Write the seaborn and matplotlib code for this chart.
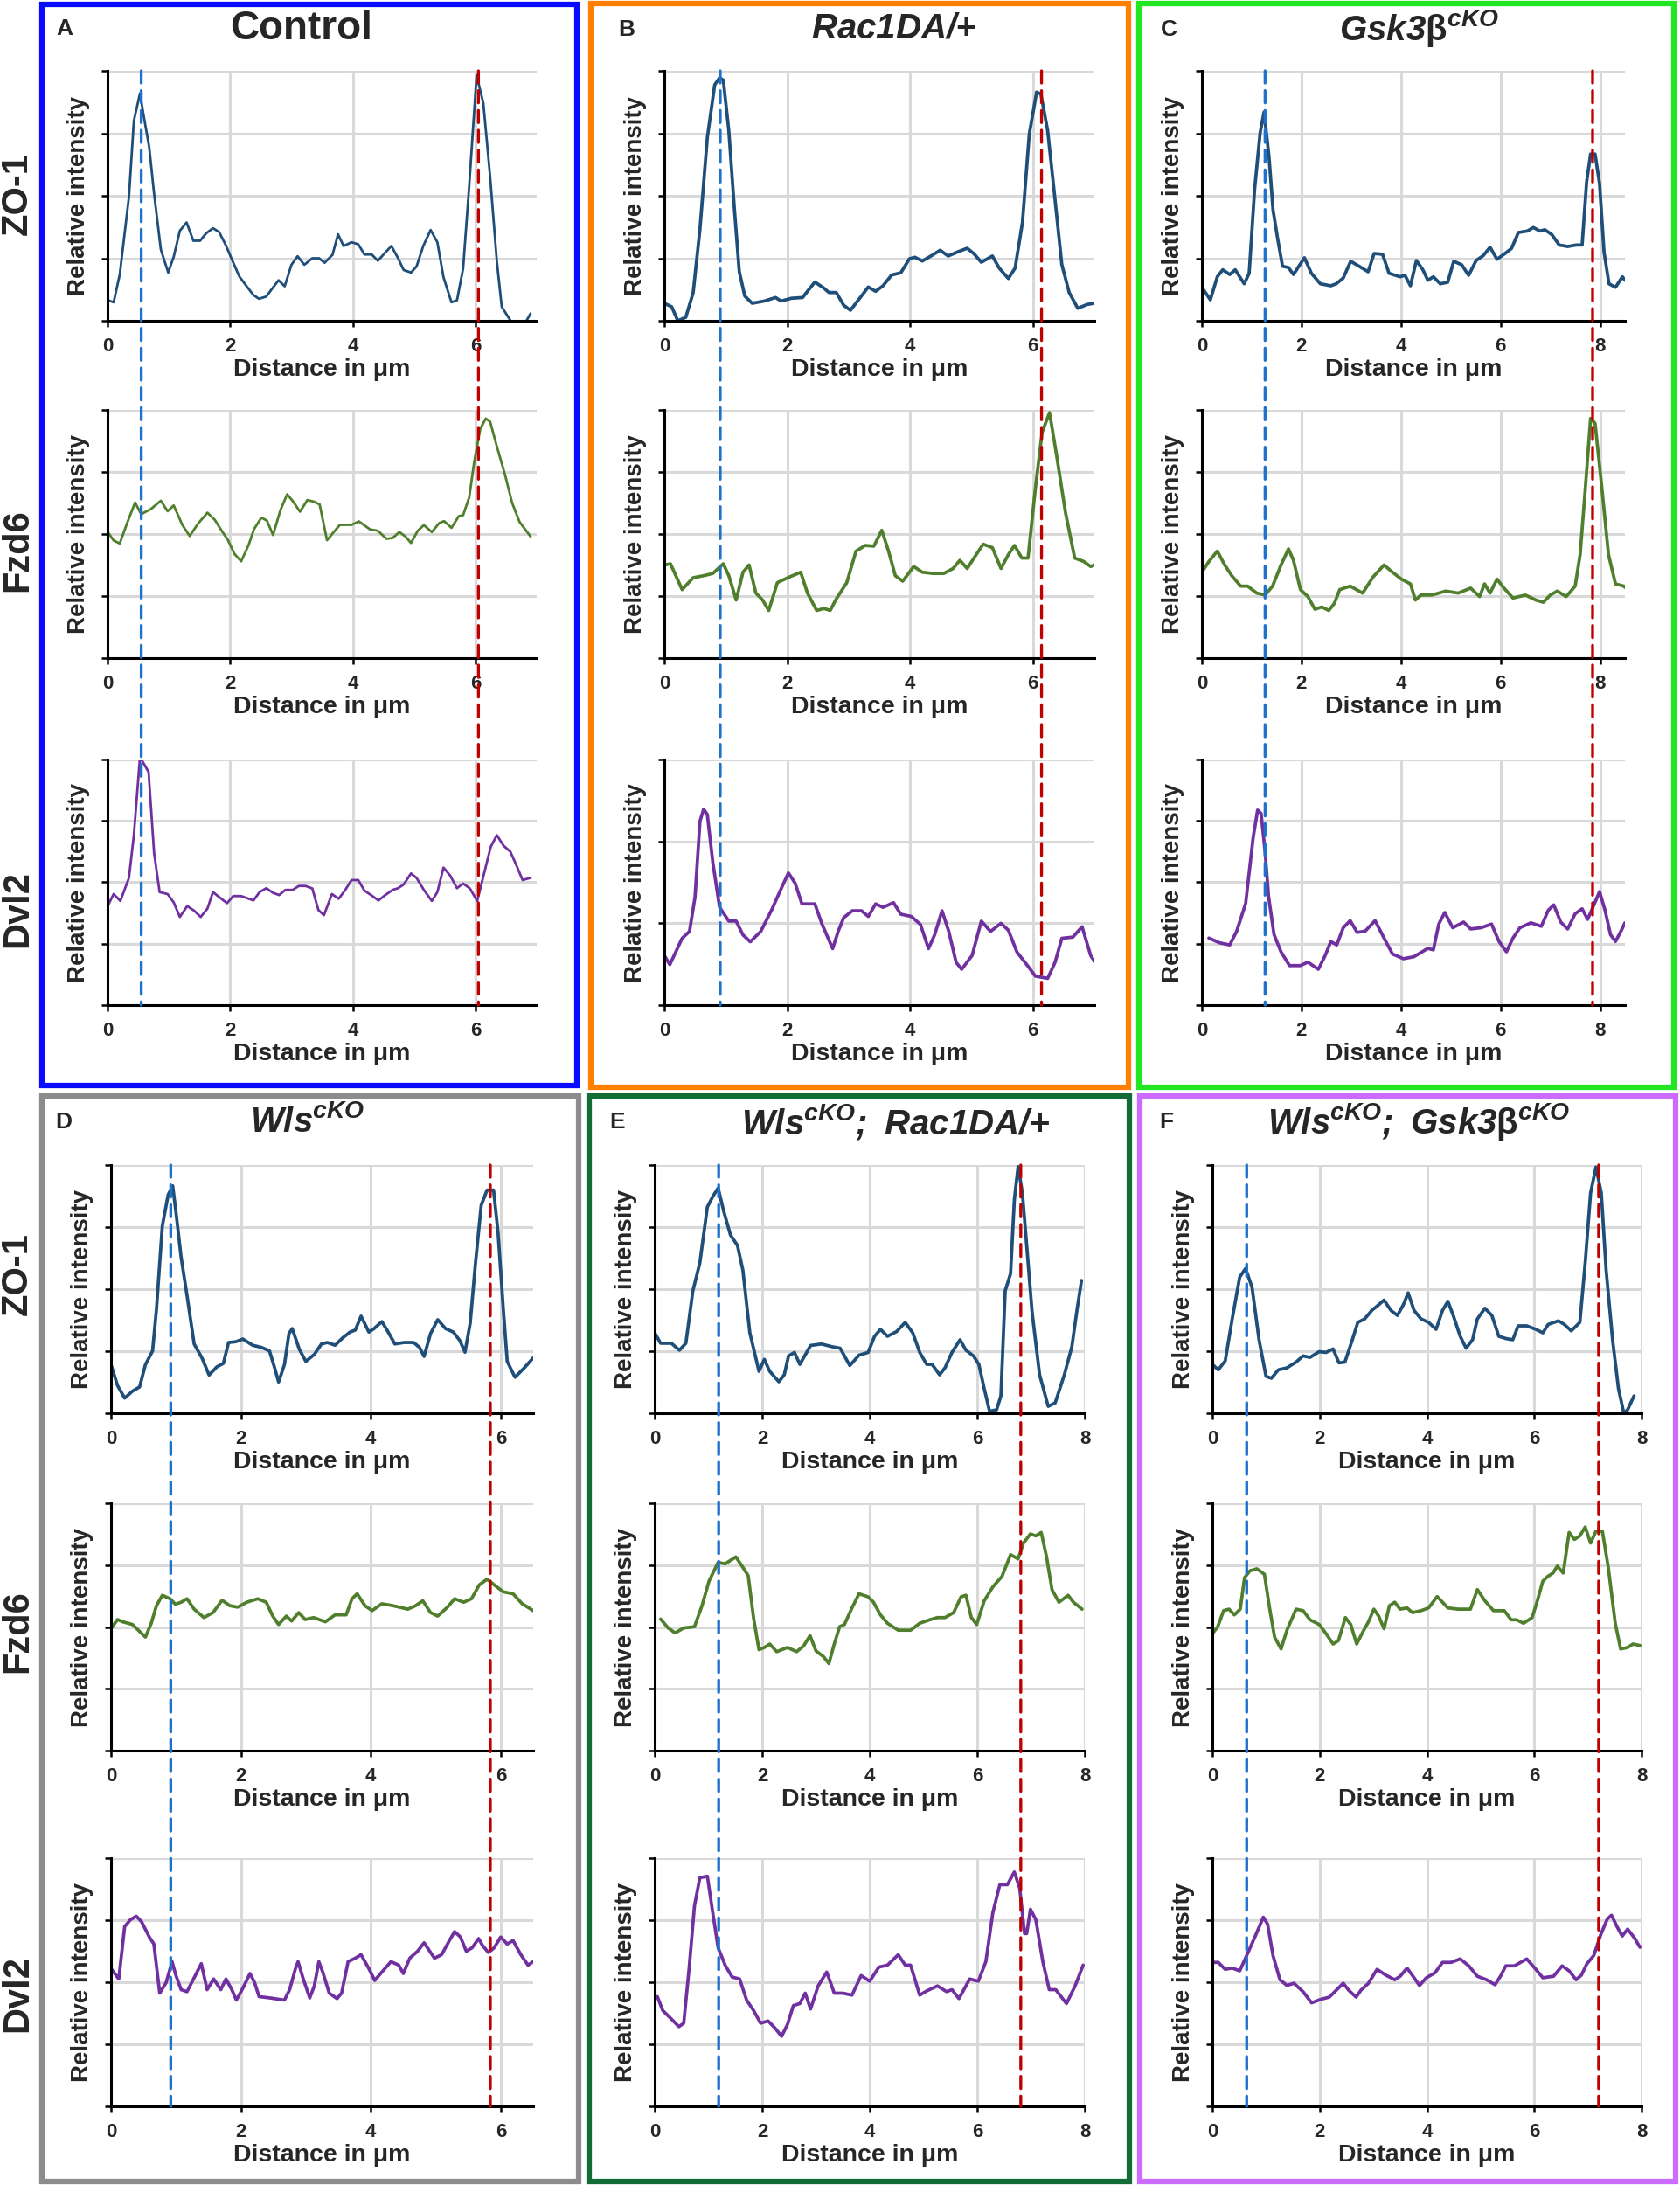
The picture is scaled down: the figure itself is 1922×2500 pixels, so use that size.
import numpy as np
import seaborn as sns
import matplotlib.pyplot as plt
from matplotlib.patches import Rectangle, ConnectionPatch

# line-scan profiles, (distance in um, intensity in % of the y axis height)
ctrl_zo1 = [(0, 8.3), (0.1, 7.4), (0.2, 18.5), (0.35, 49.6), (0.43, 80), (0.53, 91), (0.59, 82), (0.68, 69.5),
            (0.76, 50.8), (0.87, 28.5), (0.99, 19.3), (1.08, 25.6), (1.18, 36), (1.29, 39.3), (1.40, 32), (1.51, 32),
            (1.61, 35), (1.72, 37), (1.82, 35.5), (1.93, 30.2), (2.02, 25), (2.15, 17.7), (2.27, 13.8), (2.38, 10.3),
            (2.47, 8.8), (2.59, 9.7), (2.68, 12.7), (2.79, 16.2), (2.89, 13.8), (3.0, 22.4), (3.1, 25.8), (3.21, 22.4),
            (3.34, 25), (3.45, 25), (3.54, 23.2), (3.67, 26.4), (3.76, 34.6), (3.85, 29.9), (3.98, 31.4), (4.09, 30.6),
            (4.19, 26.5), (4.31, 26.5), (4.41, 24), (4.52, 27), (4.63, 29.9), (4.74, 25), (4.83, 20.3), (4.95, 19.3),
            (5.04, 21.7), (5.15, 29.9), (5.27, 36.3), (5.38, 31.4), (5.48, 17.4), (5.61, 7.4), (5.70, 8.2), (5.80, 20.9),
            (5.90, 54.3), (6.02, 98.2), (6.13, 87), (6.24, 57.8), (6.35, 23.8), (6.43, 5.6), (6.6, -1), (6.81, -1),
            (6.9, 2.9)]
ctrl_fzd6 = [(0, 51), (0.1, 47.4), (0.2, 46.2), (0.32, 54.4), (0.45, 62.7), (0.55, 58), (0.71, 60.1), (0.87, 63.4),
             (0.98, 59.2), (1.08, 61.5), (1.22, 53.7), (1.34, 49.2), (1.48, 54.3), (1.63, 58.6), (1.75, 55.7),
             (1.87, 51), (1.96, 47.8), (2.07, 42), (2.18, 39), (2.3, 45.5), (2.39, 52), (2.51, 56.6), (2.6, 55.4),
             (2.7, 49.6), (2.82, 59.6), (2.93, 66), (3.03, 63), (3.14, 59), (3.26, 63.7), (3.37, 63), (3.46, 61.9),
             (3.58, 47.5), (3.69, 50.8), (3.79, 53.7), (3.98, 53.7), (4.1, 55.1), (4.28, 51.9), (4.41, 51.3),
             (4.55, 48.1), (4.65, 48.4), (4.76, 50.8), (4.86, 49), (4.95, 46.4), (5.06, 51.3), (5.16, 53.6),
             (5.29, 50.8), (5.41, 54.4), (5.49, 55.2), (5.61, 52.5), (5.73, 57.2), (5.80, 57.6), (5.9, 64.8),
             (5.98, 78.9), (6.08, 92.4), (6.17, 96.5), (6.24, 95.3), (6.35, 85.3), (6.48, 74.2), (6.6, 62.5),
             (6.72, 54.9), (6.9, 49)]
ctrl_dvl2 = [(0, 40.2), (0.1, 45.2), (0.21, 42.4), (0.35, 51.8), (0.43, 69.2), (0.53, 101), (0.67, 94.9), (0.76, 61.9),
             (0.85, 46), (0.98, 45.2), (1.08, 41.8), (1.18, 35.9), (1.30, 40.3), (1.41, 38.5), (1.52, 35.9),
             (1.63, 39.3), (1.72, 46), (1.84, 43.6), (1.95, 41.5), (2.05, 44.4), (2.18, 44.4), (2.27, 43.6),
             (2.38, 42.6), (2.48, 46), (2.59, 47.6), (2.70, 45.7), (2.80, 44.8), (2.90, 46.9), (3.02, 46.9),
             (3.12, 48.5), (3.23, 48.5), (3.34, 47.5), (3.44, 38.7), (3.53, 36.6), (3.66, 45.2), (3.77, 43.3),
             (3.87, 46.6), (3.98, 50.9), (4.09, 50.9), (4.19, 46.6), (4.31, 44.6), (4.42, 42.6), (4.52, 44.6),
             (4.65, 46.9), (4.74, 47.6), (4.83, 49.1), (4.95, 53.6), (5.04, 51.8), (5.16, 46.9), (5.29, 42.4),
             (5.38, 46), (5.48, 56), (5.59, 52.7), (5.70, 47.6), (5.80, 49.5), (5.91, 47.5), (6.03, 42.4),
             (6.14, 53.4), (6.25, 64.4), (6.35, 69.2), (6.46, 64.9), (6.57, 62.5), (6.68, 56.3), (6.77, 50.9),
             (6.9, 51.8)]

rac_zo1 = [(0, 7), (0.12, 5.6), (0.22, 0), (0.35, 1.4), (0.47, 11.3), (0.58, 36.6), (0.70, 73.2), (0.82, 94.4),
           (0.9, 97.2), (0.96, 96.3), (1.05, 76), (1.14, 45), (1.22, 19.7), (1.31, 9.9), (1.43, 7), (1.63, 7.9),
           (1.81, 9.3), (1.9, 7.9), (2.07, 9), (2.25, 9.3), (2.45, 15.5), (2.59, 13.2), (2.68, 11.3), (2.8, 11.3),
           (2.92, 6.2), (3.03, 4.2), (3.18, 9), (3.32, 13.5), (3.44, 11.8), (3.56, 14), (3.7, 18.3), (3.85, 19.2),
           (3.99, 24.8), (4.08, 25.4), (4.2, 23.9), (4.34, 25.9), (4.49, 28.2), (4.62, 25.9), (4.78, 27.6),
           (4.93, 29), (5.04, 26.8), (5.16, 23.4), (5.34, 25.9), (5.45, 21.1), (5.6, 16.9), (5.71, 21.1),
           (5.83, 39.4), (5.94, 74.6), (6.06, 91.5), (6.13, 90.7), (6.24, 76), (6.35, 50.7), (6.47, 22.5),
           (6.59, 11.3), (6.73, 5), (6.88, 6.5), (7.0, 7)]
rac_fzd6 = [(0, 37.5), (0.1, 38), (0.29, 27.6), (0.47, 32.4), (0.64, 33.2), (0.79, 34.1), (0.96, 38), (1.05, 33.2),
            (1.17, 23.4), (1.28, 34.6), (1.38, 37.5), (1.49, 26.2), (1.6, 23.4), (1.7, 19.2), (1.84, 30.4),
            (2.01, 32.4), (2.22, 34.6), (2.33, 26.2), (2.48, 19.2), (2.6, 20), (2.7, 19.2), (2.8, 23.9), (2.97, 30.4),
            (3.12, 43.1), (3.27, 45.4), (3.41, 45.1), (3.54, 51.5), (3.65, 43.1), (3.76, 33.2), (3.88, 31),
            (4.06, 36.9), (4.2, 34.6), (4.38, 34.1), (4.55, 34.1), (4.7, 36.1), (4.81, 39.4), (4.93, 36.1),
            (5.04, 40.3), (5.19, 45.9), (5.34, 44.5), (5.48, 36.1), (5.6, 41.7), (5.7, 45.4), (5.82, 40.3),
            (5.92, 40.3), (6.04, 68.5), (6.15, 91), (6.27, 98.9), (6.38, 82.5), (6.53, 58.6), (6.68, 40.3),
            (6.83, 38.9), (6.94, 36.9), (7.0, 37.5)]
rac_dvl2 = [(0, 20.2), (0.09, 16.5), (0.29, 27.2), (0.41, 30), (0.5, 44), (0.58, 74.8), (0.64, 79.8), (0.7, 77.6),
            (0.79, 58), (0.9, 39.8), (1.05, 34.2), (1.17, 34.2), (1.28, 28.6), (1.4, 25.8), (1.57, 30), (1.75, 38.9),
            (1.9, 47.3), (2.02, 53.8), (2.13, 49.6), (2.24, 41.2), (2.45, 41.2), (2.57, 32.8), (2.74, 23), (2.83, 30),
            (2.92, 35.6), (3.06, 38.4), (3.21, 38.4), (3.32, 36.1), (3.44, 41.2), (3.56, 39.8), (3.73, 41.7),
            (3.85, 37), (4.02, 36.1), (4.17, 32.8), (4.3, 23), (4.4, 28.6), (4.52, 38.4), (4.63, 30), (4.75, 17.4),
            (4.84, 14.6), (5.01, 20.2), (5.16, 34.2), (5.31, 30), (5.48, 33.3), (5.6, 30.5), (5.74, 21.6),
            (5.89, 16.8), (6.04, 11.8), (6.24, 10.9), (6.36, 17.4), (6.47, 27.2), (6.65, 27.7), (6.8, 31.9),
            (6.94, 20.2), (7.0, 17.9)]

gsk_zo1 = [(0, 13.4), (0.17, 8.4), (0.31, 17.6), (0.42, 20.4), (0.56, 18.5), (0.67, 20.4), (0.85, 14.8), (0.95, 19),
           (1.06, 52.7), (1.17, 75.1), (1.25, 83.5), (1.35, 65.3), (1.43, 44.3), (1.52, 33.1), (1.62, 21.8),
           (1.74, 21.3), (1.84, 18.5), (2.06, 25.2), (2.2, 19), (2.38, 14.8), (2.59, 14), (2.7, 14.8), (2.84, 17.1),
           (2.99, 23.8), (3.16, 21.8), (3.34, 19.6), (3.46, 26.9), (3.63, 26.6), (3.76, 19), (3.98, 17.6),
           (4.08, 18.2), (4.19, 14), (4.31, 24.1), (4.44, 20.4), (4.54, 16.2), (4.65, 17.6), (4.79, 14.8),
           (4.94, 15.4), (5.06, 23.8), (5.22, 22.4), (5.36, 18.2), (5.51, 24.1), (5.65, 26), (5.79, 29.4),
           (5.93, 24.6), (6.07, 26.6), (6.22, 28.9), (6.36, 35.3), (6.54, 35.9), (6.66, 37.3), (6.79, 35.9),
           (6.89, 36.4), (7.03, 34.5), (7.18, 30.3), (7.35, 29.7), (7.52, 30.3), (7.64, 30.3), (7.73, 55.5),
           (7.81, 66.7), (7.9, 66.7), (7.99, 54.9), (8.08, 27.5), (8.18, 14.8), (8.31, 13.4), (8.45, 17.6),
           (8.5, 16.2)]
gsk_fzd6 = [(0, 34.6), (0.14, 38.9), (0.31, 43.1), (0.46, 37.5), (0.6, 33.2), (0.78, 29), (0.92, 29), (1.1, 26.2),
            (1.27, 25.4), (1.42, 29), (1.59, 37.5), (1.74, 44), (1.84, 39.4), (1.98, 27.6), (2.13, 24.8),
            (2.27, 19.7), (2.41, 20.6), (2.55, 19.2), (2.66, 22), (2.77, 27.6), (2.98, 29), (3.23, 26.2),
            (3.44, 32.7), (3.66, 37.5), (3.83, 34.6), (4.01, 31.8), (4.19, 29.9), (4.29, 23.4), (4.4, 25.4),
            (4.62, 25.4), (4.9, 27), (5.15, 26.2), (5.4, 28.2), (5.58, 24.8), (5.68, 29.9), (5.79, 26.2),
            (5.93, 31.8), (6.07, 28.2), (6.25, 24.2), (6.5, 25.4), (6.71, 23.4), (6.86, 22.5), (7.0, 25.4),
            (7.14, 27), (7.32, 24.8), (7.5, 29), (7.6, 41.7), (7.71, 69.9), (7.81, 96.6), (7.9, 94.6), (8.03, 69.9),
            (8.17, 41.7), (8.31, 29.9), (8.48, 29), (8.5, 28.5)]
gsk_dvl2 = [(0.14, 27.3), (0.35, 25.4), (0.56, 24.5), (0.7, 30.1), (0.88, 41.4), (1.03, 68.2), (1.12, 79.4),
            (1.19, 78), (1.27, 62.5), (1.34, 44.2), (1.45, 28.7), (1.59, 21.7), (1.76, 16.1), (1.98, 16.1),
            (2.13, 17.5), (2.34, 14.6), (2.48, 20.3), (2.59, 25.9), (2.71, 24.5), (2.84, 31.5), (2.98, 34.4),
            (3.12, 29.6), (3.28, 30.1), (3.48, 34.4), (3.66, 27.3), (3.83, 20.8), (4.05, 18.9), (4.26, 19.7),
            (4.54, 23.1), (4.65, 22.5), (4.76, 33), (4.88, 37.7), (5.04, 31.5), (5.26, 33.8), (5.4, 31),
            (5.61, 31.5), (5.82, 33), (5.97, 25.9), (6.12, 21.7), (6.25, 27.3), (6.39, 31.5), (6.61, 33.5),
            (6.82, 32.1), (6.96, 38.6), (7.07, 40.8), (7.21, 33.8), (7.35, 31), (7.5, 37.2), (7.64, 39.2),
            (7.75, 34.9), (7.89, 41.4), (7.99, 46.2), (8.1, 38.6), (8.21, 28.7), (8.31, 25.9), (8.42, 30.1),
            (8.5, 33.5)]

wls_zo1 = [(0, 19.6), (0.1, 11.2), (0.21, 6.1), (0.33, 8.9), (0.44, 10.6), (0.53, 19.6), (0.64, 25.1), (0.7, 41.9),
           (0.79, 75.4), (0.88, 88), (0.95, 91.6), (1.0, 81), (1.08, 62.8), (1.17, 47.5), (1.28, 27.9), (1.4, 22.3),
           (1.51, 15.4), (1.63, 18.7), (1.73, 20.1), (1.81, 28.5), (1.92, 28.8), (2.03, 29.9), (2.18, 27.4),
           (2.32, 26.5), (2.44, 25.1), (2.52, 18.2), (2.58, 12.6), (2.67, 19.6), (2.74, 32.1), (2.79, 34.1),
           (2.9, 25.7), (3.0, 20.9), (3.13, 23.7), (3.24, 27.9), (3.33, 28.5), (3.45, 27.4), (3.56, 30.2),
           (3.68, 32.7), (3.76, 33.5), (3.85, 39.1), (3.97, 32.7), (4.05, 34.1), (4.17, 36.9), (4.25, 33.5),
           (4.37, 27.9), (4.51, 28.5), (4.66, 28.5), (4.75, 26.5), (4.82, 22.9), (4.92, 32.1), (5.03, 37.7),
           (5.15, 34.1), (5.27, 32.7), (5.37, 29.3), (5.45, 24.6), (5.53, 36.3), (5.61, 60.1), (5.7, 83.8),
           (5.79, 89.9), (5.89, 89.9), (5.96, 72.6), (6.04, 41.9), (6.1, 20.9), (6.22, 14.5), (6.36, 18.2),
           (6.5, 22.3)]
wls_fzd6 = [(0, 49.3), (0.1, 53), (0.18, 52.1), (0.33, 51), (0.44, 48.2), (0.53, 45.9), (0.62, 51.5), (0.7, 58.6),
            (0.79, 62.8), (0.91, 61.4), (0.99, 59.2), (1.08, 60), (1.17, 61.4), (1.28, 57.2), (1.43, 53.8),
            (1.57, 55.8), (1.71, 60.8), (1.83, 58.6), (1.95, 58), (2.09, 60), (2.26, 61.4), (2.39, 60), (2.49, 54.4),
            (2.58, 51), (2.7, 54.4), (2.78, 52.4), (2.89, 55.8), (2.99, 53), (3.12, 53.8), (3.3, 52.1), (3.45, 54.9),
            (3.62, 54.9), (3.71, 61.4), (3.79, 63.4), (3.91, 58.6), (4.02, 56.6), (4.17, 59.4), (4.34, 58.6),
            (4.57, 57.2), (4.69, 58.6), (4.8, 60.6), (4.92, 55.8), (5.03, 54.4), (5.18, 58), (5.29, 61.4),
            (5.43, 60), (5.55, 61.4), (5.67, 67), (5.79, 69.3), (5.9, 67), (6.04, 64.2), (6.19, 63.4), (6.33, 59.4),
            (6.5, 56.6)]
wls_dvl2 = [(0, 55.5), (0.04, 54.1), (0.12, 51.3), (0.21, 72.4), (0.3, 75.2), (0.39, 76.6), (0.47, 74.4), (0.59, 68.2),
            (0.66, 65.4), (0.75, 45.6), (0.85, 49.9), (0.94, 58.3), (1.0, 52.7), (1.08, 47), (1.17, 46.2),
            (1.28, 51.8), (1.39, 57.5), (1.48, 47), (1.58, 51.3), (1.69, 47), (1.77, 51.3), (1.86, 47), (1.93, 42.8),
            (2.03, 47.6), (2.14, 53.5), (2.21, 49.9), (2.28, 44.2), (2.44, 43.7), (2.67, 42.8), (2.75, 47),
            (2.84, 55.5), (2.88, 58.3), (2.96, 51.3), (3.06, 43.7), (3.13, 48.5), (3.2, 58.3), (3.26, 54.1),
            (3.36, 45.6), (3.48, 43.4), (3.55, 45.6), (3.65, 58.3), (3.76, 59.7), (3.85, 61.1), (3.97, 55.5),
            (4.06, 50.7), (4.17, 54.1), (4.31, 58.3), (4.43, 56.9), (4.5, 53.5), (4.6, 59.7), (4.72, 62.5),
            (4.82, 65.9), (4.98, 59.7), (5.09, 61.1), (5.21, 66.8), (5.29, 70.4), (5.38, 68.2), (5.47, 62.5),
            (5.56, 63.9), (5.66, 67.6), (5.72, 64.8), (5.81, 62), (5.9, 63.9), (6.0, 68.2), (6.1, 65.4), (6.19, 66.8),
            (6.31, 61.1), (6.42, 56.9), (6.5, 58.3)]

wls_rac_zo1 = [(0, 32.4), (0.11, 28.2), (0.31, 28.2), (0.46, 25.4), (0.58, 28.2), (0.71, 49.3), (0.84, 60.6),
               (0.98, 83.1), (1.08, 87.3), (1.18, 90.7), (1.28, 81.7), (1.41, 71.8), (1.54, 67.6), (1.64, 57.7),
               (1.77, 32.4), (1.94, 16.9), (2.04, 21.7), (2.14, 16.9), (2.31, 12.7), (2.41, 15.5), (2.49, 23.1),
               (2.6, 24.5), (2.7, 19.7), (2.9, 27.3), (3.1, 27.9), (3.3, 26.8), (3.45, 26.2), (3.63, 19.2),
               (3.8, 23.4), (3.97, 24.5), (4.09, 31), (4.2, 33.8), (4.33, 31), (4.5, 32.9), (4.66, 36.6), (4.8, 32.4),
               (4.93, 24.5), (5.06, 19.7), (5.16, 19.7), (5.3, 15.5), (5.4, 18.3), (5.53, 24.5), (5.68, 29.6),
               (5.79, 25.4), (5.93, 23.1), (6.03, 19.7), (6.13, 9.9), (6.23, 0.8), (6.36, 1.4), (6.44, 7),
               (6.52, 49.3), (6.62, 56.3), (6.69, 85.9), (6.76, 99.4), (6.84, 88.7), (6.92, 67.6), (7.02, 40.8),
               (7.16, 15.5), (7.32, 2.8), (7.45, 4.2), (7.62, 15.5), (7.76, 26.8), (7.86, 42.3), (7.94, 53.5)]
wls_rac_fzd6 = [(0.11, 53.2), (0.25, 49.6), (0.38, 47.6), (0.54, 49.6), (0.74, 50.1), (0.88, 58.6), (1.01, 68.5),
                (1.18, 76.1), (1.31, 75.5), (1.51, 78.3), (1.64, 74.1), (1.74, 70.7), (1.84, 53.5), (1.94, 40.8),
                (2.04, 41.7), (2.14, 43.1), (2.27, 40), (2.47, 41.7), (2.64, 40), (2.77, 42.3), (2.89, 46.5),
                (3.0, 40.3), (3.14, 38), (3.24, 35.2), (3.34, 43.1), (3.44, 50.1), (3.53, 51), (3.67, 57.7),
                (3.8, 63.4), (3.97, 62.2), (4.07, 60), (4.2, 54.9), (4.33, 51.5), (4.53, 48.7), (4.76, 48.7),
                (4.93, 51.5), (5.13, 53), (5.26, 53.8), (5.4, 53.8), (5.56, 55.8), (5.7, 62.2), (5.79, 62.8),
                (5.89, 53.8), (5.99, 51), (6.13, 60.6), (6.29, 66.2), (6.46, 70.4), (6.62, 79.2), (6.76, 77.5),
                (6.86, 83.9), (6.99, 87.6), (7.09, 86.8), (7.19, 88.2), (7.29, 78.3), (7.39, 65.1), (7.52, 60),
                (7.69, 62.8), (7.79, 60), (7.95, 57.2)]
wls_rac_dvl2 = [(0.05, 44.2), (0.15, 38.6), (0.31, 35.2), (0.45, 32.1), (0.54, 33.5), (0.64, 55.5), (0.74, 80.8),
                (0.84, 92.1), (0.98, 92.7), (1.08, 78), (1.18, 63.9), (1.31, 56.9), (1.44, 52.1), (1.58, 51.3),
                (1.71, 42.8), (1.84, 38.6), (1.97, 33.5), (2.11, 34.4), (2.24, 31.5), (2.36, 28.2), (2.47, 33),
                (2.58, 40.6), (2.7, 41.4), (2.8, 45.6), (2.9, 39.2), (3.04, 48.5), (3.2, 54.1), (3.34, 45.6),
                (3.5, 45.6), (3.67, 44.8), (3.84, 52.7), (4.0, 50.4), (4.17, 56.1), (4.33, 56.9), (4.53, 61.1),
                (4.66, 56.9), (4.76, 56.9), (4.93, 44.8), (5.06, 46.5), (5.26, 48.5), (5.43, 46.2), (5.53, 47),
                (5.66, 43.4), (5.86, 51.3), (6.02, 50.4), (6.16, 58.3), (6.29, 78), (6.42, 89.3), (6.56, 89.3),
                (6.69, 94.4), (6.79, 87.9), (6.88, 69.6), (6.92, 69.6), (6.99, 79.4), (7.09, 75.2), (7.22, 58.3),
                (7.34, 47), (7.46, 47), (7.66, 41.4), (7.82, 48.5), (7.97, 56.9)]

wls_gsk_zo1 = [(0, 19.7), (0.11, 17.5), (0.24, 21.1), (0.37, 38), (0.51, 54.9), (0.62, 58.3), (0.74, 50.7),
               (0.87, 29.6), (1.0, 14.9), (1.1, 14.1), (1.23, 17.5), (1.39, 18.3), (1.56, 20.6), (1.69, 23.1),
               (1.82, 22.5), (1.99, 24.8), (2.12, 24.5), (2.25, 25.9), (2.36, 20.3), (2.47, 20.6), (2.61, 29.6),
               (2.71, 36.6), (2.84, 38), (2.97, 41.4), (3.1, 43.7), (3.2, 45.6), (3.33, 41.4), (3.45, 39.4),
               (3.56, 43.7), (3.65, 48.5), (3.76, 41.4), (3.89, 38), (4.03, 36.6), (4.17, 33.8), (4.29, 41.4),
               (4.39, 45.1), (4.49, 39.4), (4.62, 31), (4.73, 26.2), (4.85, 29.6), (4.94, 38), (5.08, 42.3),
               (5.21, 39.4), (5.34, 31), (5.47, 30.1), (5.6, 29.6), (5.7, 35.2), (5.86, 35.2), (6.03, 33.8),
               (6.16, 32.4), (6.26, 35.8), (6.45, 37.2), (6.56, 35.8), (6.69, 33.2), (6.85, 36.6), (6.95, 60.6),
               (7.05, 88.7), (7.15, 99.2), (7.25, 88.7), (7.34, 57.7), (7.46, 29.6), (7.57, 9.9), (7.67, 0),
               (7.74, 1.4), (7.86, 7)]
wls_gsk_fzd6 = [(0, 47.3), (0.1, 50.1), (0.21, 56.6), (0.31, 57.2), (0.41, 54.9), (0.52, 57.2), (0.6, 69.9),
                (0.7, 72.7), (0.83, 73.5), (0.97, 71.3), (1.07, 57.2), (1.16, 45.9), (1.28, 41.1), (1.39, 48.7),
                (1.56, 57.2), (1.69, 56.6), (1.82, 52.9), (1.99, 51), (2.12, 47.3), (2.25, 43.1), (2.35, 44.5),
                (2.48, 53.8), (2.58, 51), (2.69, 43.1), (2.81, 48.2), (2.91, 52.1), (3.01, 57.2), (3.1, 54.4),
                (3.2, 49.3), (3.3, 58.6), (3.4, 60), (3.5, 57.2), (3.63, 57.7), (3.73, 55.8), (3.89, 56.6),
                (4.03, 57.7), (4.19, 62.3), (4.39, 57.7), (4.58, 57.2), (4.81, 57.2), (4.94, 65.1), (5.08, 60.6),
                (5.24, 56.6), (5.44, 56.6), (5.57, 52.9), (5.67, 52.9), (5.8, 51.5), (5.96, 53.8), (6.05, 60),
                (6.16, 68.5), (6.25, 70.4), (6.35, 71.8), (6.43, 74.6), (6.54, 71.8), (6.65, 88.2), (6.75, 85.4),
                (6.85, 86.8), (6.95, 90.4), (7.05, 83.9), (7.15, 88.7), (7.27, 88.7), (7.38, 74.1), (7.51, 51.5),
                (7.61, 41.1), (7.74, 41.7), (7.84, 43.1), (7.97, 42.5)]
wls_gsk_dvl2 = [(0, 58), (0.11, 58), (0.24, 55.2), (0.37, 55.7), (0.51, 54.6), (0.64, 60.8), (0.8, 68.6), (0.95, 76.2),
                (1.03, 73.4), (1.13, 60.8), (1.26, 51), (1.39, 48.7), (1.52, 49.6), (1.69, 46.2), (1.85, 41.7),
                (2.02, 43.1), (2.18, 44), (2.31, 46.8), (2.44, 49.6), (2.54, 46.8), (2.68, 44), (2.77, 46.8),
                (2.91, 49.6), (3.07, 55.2), (3.23, 52.9), (3.4, 51), (3.5, 52.4), (3.63, 55.7), (3.76, 51.8),
                (3.86, 48.7), (3.99, 51.8), (4.15, 53.8), (4.29, 58), (4.45, 58), (4.62, 59.4), (4.78, 56.6),
                (4.94, 52.4), (5.11, 51), (5.27, 49), (5.37, 52.4), (5.47, 56.6), (5.63, 56.6), (5.86, 59.4),
                (6.03, 55.2), (6.16, 51.8), (6.36, 52.4), (6.52, 56.6), (6.65, 54.6), (6.78, 51), (6.88, 52.9),
                (6.98, 57.4), (7.11, 60.8), (7.24, 69.2), (7.36, 75.4), (7.44, 77), (7.54, 72.5), (7.64, 68.6),
                (7.74, 71.4), (7.87, 67.8), (7.97, 64.1)]

panel_ids = ["A", "B", "C", "D", "E", "F"]
panel_titles = ["Control",
                r"$\mathbfit{Rac1DA/}{+}$",
                r"$\mathbfit{Gsk3}\mathrm{β}^{\mathbfit{cKO}}$",
                r"$\mathbfit{Wls}^{\mathbfit{cKO}}$",
                r"$\mathbfit{Wls}^{\mathbfit{cKO}}\mathbfit{;\ Rac1DA/}{+}$",
                r"$\mathbfit{Wls}^{\mathbfit{cKO}}\mathbfit{;\ Gsk3}\mathrm{β}^{\mathbfit{cKO}}$"]
panel_xmax = [7, 7, 8.5, 6.5, 8, 8]
panel_profiles = [[ctrl_zo1, ctrl_fzd6, ctrl_dvl2],
                  [rac_zo1, rac_fzd6, rac_dvl2],
                  [gsk_zo1, gsk_fzd6, gsk_dvl2],
                  [wls_zo1, wls_fzd6, wls_dvl2],
                  [wls_rac_zo1, wls_rac_fzd6, wls_rac_dvl2],
                  [wls_gsk_zo1, wls_gsk_fzd6, wls_gsk_dvl2]]
blue_marks = [0.55, 0.91, 1.27, 0.92, 1.19, 0.64]
red_marks = [6.05, 6.14, 7.85, 5.84, 6.81, 7.2]
markers = ["ZO-1", "Fzd6", "Dvl2"]

# styling
line_colors = ["#1F4E79", "#4F7F2C", "#7030A0"]
border_colors = ["#0A0AFF", "#FF8000", "#22E622", "#8C8C8C", "#136B35", "#CC6BFF"]

sns.set_theme(style="white")
plt.rcParams["font.family"] = ["Liberation Sans", "DejaVu Sans"]
plt.rcParams["font.weight"] = "bold"
plt.rcParams["mathtext.fontset"] = "custom"
plt.rcParams["mathtext.rm"] = "Liberation Sans"
plt.rcParams["mathtext.it"] = "Liberation Sans:italic"
plt.rcParams["mathtext.bf"] = "Liberation Sans:bold"
plt.rcParams["mathtext.bfit"] = "Liberation Sans:italic:bold"

W, H = 1922, 2500
fig = plt.figure(figsize=(W / 100, H / 100), dpi=100)


def fx(px):
    return px / W


def fy(py):
    return 1 - py / H


# pixel layout of the reference
col_lr = [(123, 614), (760, 1252), (1375, 1859), (127, 610), (749, 1241), (1387, 1878)]
row_tb_top = [(81, 367), (469, 753), (869, 1150)]
row_tb_bot = [(1333, 1617), (1720, 2003), (2126, 2410)]
borders = [(48, 5, 660, 1242), (676, 4, 1291, 1244), (1303, 4, 1915, 1244),
           (48, 1254, 662, 2496), (674, 1254, 1292, 2496), (1304, 1254, 1917, 2496)]
letter_xy = [(64, 33), (707, 34), (1328, 34), (63, 1284), (697, 1284), (1326, 1284)]
title_xy = [(345, 33), (1023, 33), (1623, 33), (352, 1284), (1024, 1284), (1623, 1284)]
row_label_y = [[222, 630, 1040], [1458, 1867, 2281]]

for i, pid in enumerate(panel_ids):
    l, r = col_lr[i]
    rows = row_tb_top if i < 3 else row_tb_bot
    lw = 2.0 if i == 0 else 2.7
    axes = []
    for j, prof in enumerate(panel_profiles[i]):
        t, b = rows[j]
        ax = fig.add_axes([fx(l), fy(b), fx(r - l), (b - t) / H])
        xs, ys = zip(*prof)
        sns.lineplot(x=list(xs), y=list(ys), ax=ax, color=line_colors[j], linewidth=lw,
                     sort=False, estimator=None)
        n_grid = 3 if (pid == "B" and j == 2) else 4
        xmax = panel_xmax[i]
        ax.set_xlim(0, xmax)
        ax.set_ylim(0, 100)
        ax.set_xticks(np.arange(0, xmax + 0.01, 2))
        ax.set_xticklabels([str(int(v)) for v in np.arange(0, xmax + 0.01, 2)])
        ax.set_yticks(np.linspace(0, 100, n_grid + 1))
        ax.set_yticklabels([])
        ax.grid(True, color="#D9D9D9", linewidth=2.2)
        ax.set_axisbelow(True)
        for s in ["top", "right"]:
            ax.spines[s].set_visible(False)
        for s in ["left", "bottom"]:
            ax.spines[s].set_linewidth(2.2)
            ax.spines[s].set_color("black")
        ax.tick_params(axis="both", direction="out", length=5, width=1.8, color="black",
                       left=True, bottom=True)
        ax.tick_params(axis="x", labelsize=16, pad=9)
        ax.set_xlabel("Distance in μm", fontsize=20.5, fontweight="bold", labelpad=2)
        ax.set_ylabel("Relative intensity", fontsize=20, fontweight="bold", labelpad=6)
        ax.set_facecolor("none")
        axes.append(ax)

    # guide lines through the three profiles
    for xpos, col in [(blue_marks[i], "#1F72CC"), (red_marks[i], "#C00000")]:
        con = ConnectionPatch(xyA=(xpos, 100), coordsA="data", axesA=axes[0],
                              xyB=(xpos, 0), coordsB="data", axesB=axes[2],
                              color=col, linewidth=2.4, linestyle=(0, (4.2, 2.6)), zorder=10)
        fig.add_artist(con)

    bl, bt, br, bb = borders[i]
    fig.add_artist(Rectangle((fx(bl), fy(bb)), fx(br - bl), (bb - bt) / H, transform=fig.transFigure,
                             fill=False, edgecolor=border_colors[i], linewidth=4.5))
    fig.text(fx(letter_xy[i][0]), fy(letter_xy[i][1]), pid, fontsize=19, fontweight="bold",
             ha="left", va="center")
    fig.text(fx(title_xy[i][0]), fy(title_xy[i][1]), panel_titles[i], fontsize=33 if i == 0 else 29,
             fontweight="bold", ha="center", va="center")

for k in range(2):
    for j, name in enumerate(markers):
        fig.text(fx(20), fy(row_label_y[k][j]), name, fontsize=30, fontweight="bold",
                 rotation=90, ha="center", va="center")

fig.savefig("out.png", dpi=100, facecolor="white")
